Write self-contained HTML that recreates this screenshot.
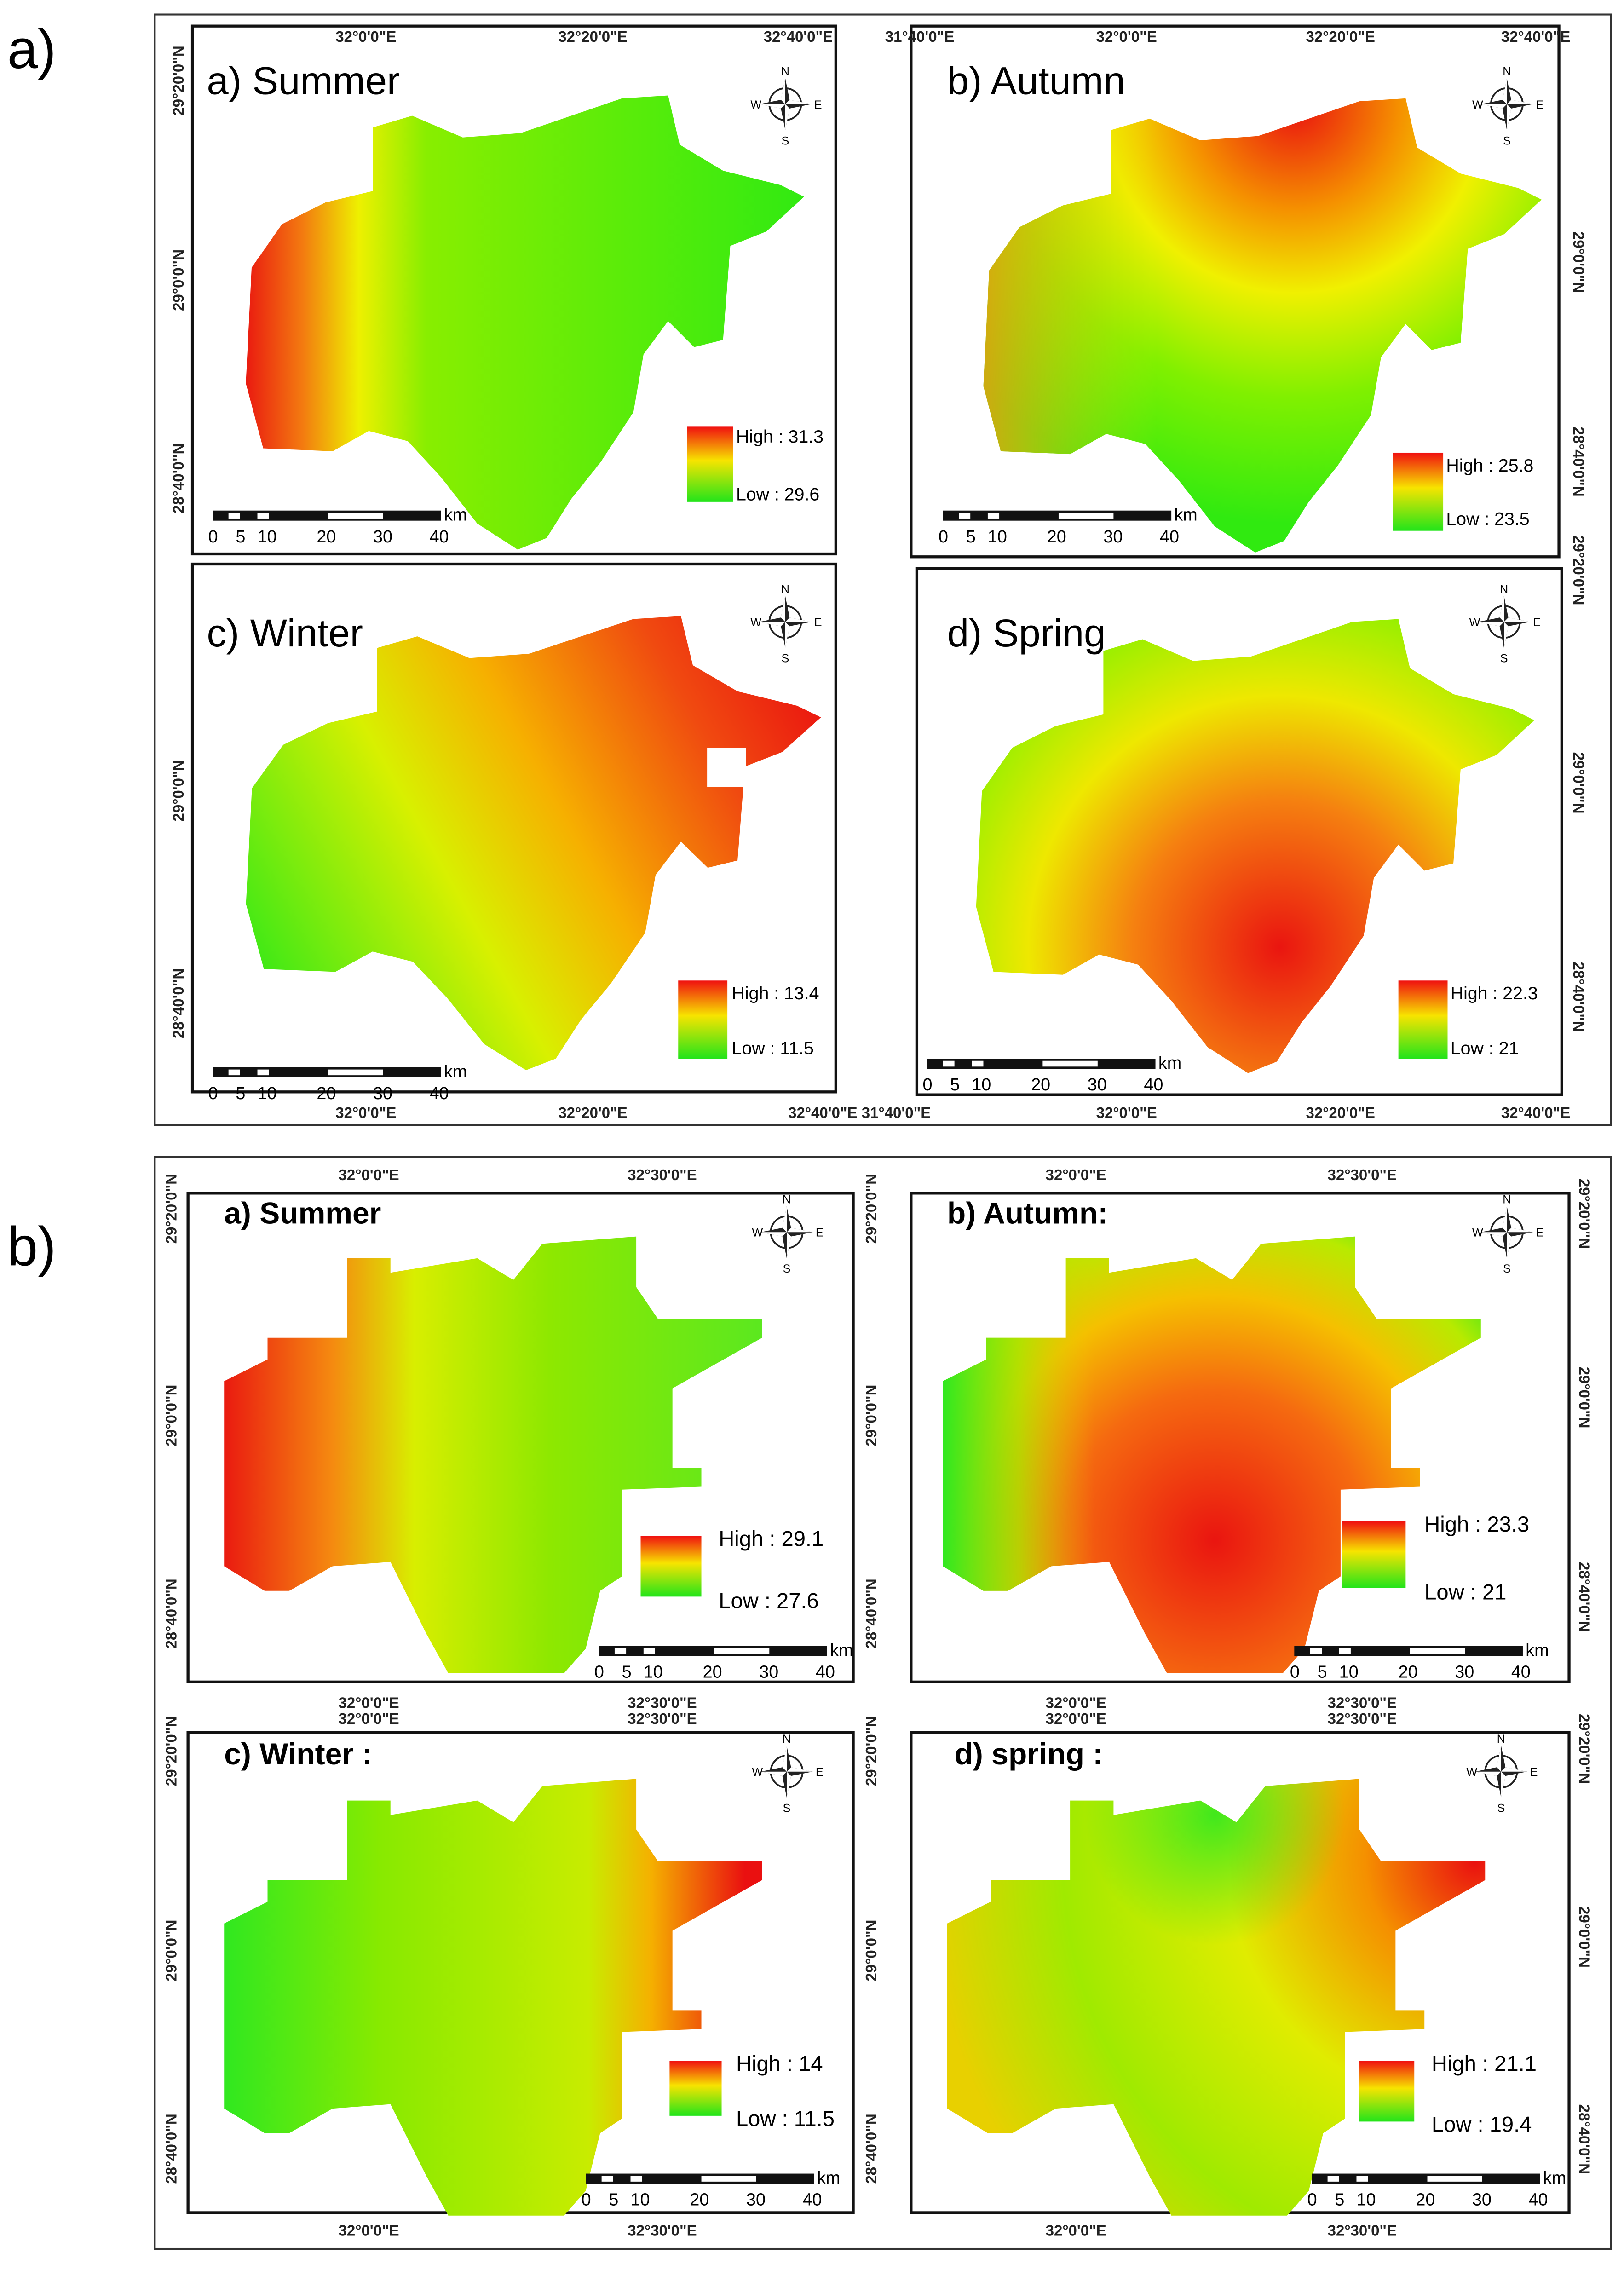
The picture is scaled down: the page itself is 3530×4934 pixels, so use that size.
<!DOCTYPE html>
<html><head><meta charset="utf-8"><style>
html,body{margin:0;padding:0;background:#fff}
svg{display:block}
text{font-family:"Liberation Sans",sans-serif}
.crd{font-size:10.5px;font-weight:bold;fill:#222}
.ttl{font-size:27px}
.ttlb{font-size:21px;font-weight:bold}
.lg{font-size:12.5px}
.lgb{font-size:15px}
.sb{font-size:12px}
</style></head><body>
<svg id="fig" width="3530" height="4934" viewBox="0 0 1123 1569.6" xmlns="http://www.w3.org/2000/svg">
<defs>
 <linearGradient id="leg" x1="0" y1="0" x2="0" y2="1"><stop offset="0" stop-color="#f01010"/><stop offset="0.45" stop-color="#f7e400"/><stop offset="1" stop-color="#22e41a"/></linearGradient>
 <linearGradient id="gSumA" x1="170" y1="0" x2="560" y2="0" gradientUnits="userSpaceOnUse"><stop offset="0" stop-color="#ea1a10"/><stop offset="0.1" stop-color="#f37a10"/><stop offset="0.2" stop-color="#eef000"/><stop offset="0.32" stop-color="#88ee00"/><stop offset="1" stop-color="#30ea12"/></linearGradient>
 <radialGradient id="gAutA" cx="385" cy="70" r="290" gradientUnits="userSpaceOnUse"><stop offset="0" stop-color="#ea1010"/><stop offset="0.25" stop-color="#f59000"/><stop offset="0.45" stop-color="#f0f000"/><stop offset="0.7" stop-color="#80f000"/><stop offset="1" stop-color="#30ea10"/></radialGradient>
 <linearGradient id="gAutAw" x1="170" y1="0" x2="290" y2="0" gradientUnits="userSpaceOnUse"><stop offset="0" stop-color="#f59a10" stop-opacity="0.8"/><stop offset="1" stop-color="#f0e000" stop-opacity="0"/></linearGradient>
 <linearGradient id="gWinA" x1="170" y1="320" x2="558" y2="110" gradientUnits="userSpaceOnUse"><stop offset="0" stop-color="#30e818"/><stop offset="0.35" stop-color="#d8f000"/><stop offset="0.55" stop-color="#f6b000"/><stop offset="0.8" stop-color="#f04a10"/><stop offset="1" stop-color="#ea1010"/></linearGradient>
 <radialGradient id="gSprA" cx="380" cy="293" r="290" gradientUnits="userSpaceOnUse"><stop offset="0" stop-color="#ea1510"/><stop offset="0.35" stop-color="#f58010"/><stop offset="0.6" stop-color="#eee800"/><stop offset="0.85" stop-color="#90f000"/><stop offset="1" stop-color="#38e818"/></radialGradient>
 <linearGradient id="gSumB" x1="155" y1="0" x2="530" y2="0" gradientUnits="userSpaceOnUse"><stop offset="0" stop-color="#ea1a10"/><stop offset="0.2" stop-color="#f58a10"/><stop offset="0.35" stop-color="#d8ee00"/><stop offset="0.6" stop-color="#8ee800"/><stop offset="1" stop-color="#5ae820"/></linearGradient>
 <radialGradient id="gAutB" cx="343" cy="1065" r="260" gradientUnits="userSpaceOnUse"><stop offset="0" stop-color="#ea1510"/><stop offset="0.4" stop-color="#f56a10"/><stop offset="0.65" stop-color="#f5c000"/><stop offset="0.85" stop-color="#b8ea00"/><stop offset="1" stop-color="#30e820"/></radialGradient>
 <linearGradient id="gAutBw" x1="155" y1="0" x2="260" y2="0" gradientUnits="userSpaceOnUse"><stop offset="0" stop-color="#30e820" stop-opacity="1"/><stop offset="0.5" stop-color="#a0e800" stop-opacity="0.7"/><stop offset="1" stop-color="#f0c000" stop-opacity="0"/></linearGradient>
 <linearGradient id="gWinB" x1="155" y1="0" x2="515" y2="0" gradientUnits="userSpaceOnUse"><stop offset="0" stop-color="#30e820"/><stop offset="0.3" stop-color="#88ea00"/><stop offset="0.7" stop-color="#c8ec00"/><stop offset="0.82" stop-color="#f5b000"/><stop offset="1" stop-color="#ea1010"/></linearGradient>
 <radialGradient id="gSprB" cx="520" cy="912" r="380" gradientUnits="userSpaceOnUse"><stop offset="0" stop-color="#ea1010"/><stop offset="0.2" stop-color="#f59000"/><stop offset="0.45" stop-color="#e0ec00"/><stop offset="0.75" stop-color="#a0ea00"/><stop offset="1" stop-color="#e8d000"/></radialGradient>
 <radialGradient id="gSprBg" cx="340" cy="880" r="90" gradientUnits="userSpaceOnUse"><stop offset="0" stop-color="#30e820" stop-opacity="0.9"/><stop offset="1" stop-color="#30e820" stop-opacity="0"/></radialGradient>
 <polygon id="shA" points="258,88 285,80 320,95 360,92 395,80 430,68 462,66 470,100 500,118 540,128 556,136 530,160 505,170 500,235 480,240 462,222 445,245 438,285 415,320 395,345 378,372 358,380 330,362 305,330 282,305 255,298 230,312 182,310 170,265 174,185 195,155 225,140 258,132"/>
 <polygon id="shB" points="240,870 270,870 270,880 330,870 355,885 375,860 440,855 440,890 455,912 527,912 527,925 465,960 465,1015 485,1015 485,1028 430,1030 430,1090 415,1100 405,1140 390,1157 310,1157 295,1130 270,1080 230,1083 200,1100 183,1100 155,1083 155,955 185,940 185,925 240,925"/>
 <g id="compass"><circle r="11" fill="none" stroke="#222" stroke-width="1.2"/><polygon points="0,-18 3,-3 18,0 3,3 0,18 -3,3 -18,0 -3,-3" fill="#222"/><polygon points="0,-18 -3,-3 0,0" fill="#fff"/><polygon points="18,0 3,-3 0,0" fill="#fff"/><polygon points="0,18 3,3 0,0" fill="#fff"/><polygon points="-18,0 -3,3 0,0" fill="#fff"/><text x="0" y="-20" font-size="8" text-anchor="middle" font-family="Liberation Serif">N</text><text x="0" y="28" font-size="8" text-anchor="middle" font-family="Liberation Serif">S</text><text x="-24" y="3" font-size="8" font-family="Liberation Serif">W</text><text x="20" y="3" font-size="8" font-family="Liberation Serif">E</text></g>
 <g id="scale"><rect x="0" y="0" width="158" height="7" fill="#111"/><rect x="11" y="1.5" width="8" height="4" fill="#fff"/><rect x="31" y="1.5" width="8" height="4" fill="#fff"/><rect x="80" y="1.5" width="38" height="4" fill="#fff"/><text x="160" y="7" class="sb">km</text><text x="-3" y="22" class="sb">0</text><text x="16" y="22" class="sb">5</text><text x="31" y="22" class="sb">10</text><text x="72" y="22" class="sb">20</text><text x="111" y="22" class="sb">30</text><text x="150" y="22" class="sb">40</text></g>
</defs>
<rect width="1123" height="1570" fill="#fff"/>
<text x="5" y="47" font-size="38">a)</text>
<text x="5" y="875" font-size="38">b)</text>

<g id="partA">
<rect x="107" y="10" width="1007" height="768" fill="none" stroke="#333" stroke-width="1.3"/>
<rect x="133" y="18" width="445" height="365" fill="none" stroke="#111" stroke-width="2"/>
<rect x="630" y="18" width="448" height="367" fill="none" stroke="#111" stroke-width="2"/>
<rect x="133" y="390" width="445" height="365" fill="none" stroke="#111" stroke-width="2"/>
<rect x="634" y="393" width="446" height="364" fill="none" stroke="#111" stroke-width="2"/>
<use href="#shA" fill="url(#gSumA)"/>
<use href="#shA" transform="translate(510,2)" fill="url(#gAutA)"/>
<use href="#shA" transform="translate(510,2)" fill="url(#gAutAw)"/>
<use href="#shA" transform="translate(-5,360) scale(1.03,1)" fill="url(#gWinA)"/>
<use href="#shA" transform="translate(505,362)" fill="url(#gSprA)"/>
<rect x="489" y="517" width="27" height="27" fill="#fff"/>
<text x="143" y="65" class="ttl">a) Summer</text>
<text x="655" y="65" class="ttl">b) Autumn</text>
<text x="143" y="447" class="ttl">c) Winter</text>
<text x="655" y="447" class="ttl">d) Spring</text>
<use href="#compass" x="543" y="72"/><use href="#compass" x="1042" y="72"/><use href="#compass" x="543" y="430"/><use href="#compass" x="1040" y="430"/>
<rect x="475" y="295" width="32" height="52" fill="url(#leg)"/><text x="509" y="306" class="lg">High : 31.3</text><text x="509" y="346" class="lg">Low : 29.6</text>
<rect x="963" y="313" width="35" height="54" fill="url(#leg)"/><text x="1000" y="326" class="lg" font-size="14">High : 25.8</text><text x="1000" y="363" class="lg" font-size="14">Low : 23.5</text>
<rect x="469" y="678" width="34" height="54" fill="url(#leg)"/><text x="506" y="691" class="lg" font-size="14">High : 13.4</text><text x="506" y="729" class="lg" font-size="14">Low : 11.5</text>
<rect x="967" y="678" width="34" height="54" fill="url(#leg)"/><text x="1003" y="691" class="lg" font-size="14">High : 22.3</text><text x="1003" y="729" class="lg" font-size="14">Low : 21</text>
<use href="#scale" x="147" y="353"/><use href="#scale" x="652" y="353"/><use href="#scale" x="147" y="738"/><use href="#scale" x="641" y="732"/>
<text x="232" y="29" class="crd">32°0'0"E</text><text x="386" y="29" class="crd">32°20'0"E</text><text x="528" y="29" class="crd">32°40'0"E</text>
<text x="612" y="29" class="crd">31°40'0"E</text><text x="758" y="29" class="crd">32°0'0"E</text><text x="903" y="29" class="crd">32°20'0"E</text><text x="1038" y="29" class="crd">32°40'0"E</text>
<text x="232" y="773" class="crd">32°0'0"E</text><text x="386" y="773" class="crd">32°20'0"E</text><text x="545" y="773" class="crd">32°40'0"E 31°40'0"E</text><text x="758" y="773" class="crd">32°0'0"E</text><text x="903" y="773" class="crd">32°20'0"E</text><text x="1038" y="773" class="crd">32°40'0"E</text>
<text transform="translate(127,80) rotate(-90)" class="crd">29°20'0"N</text><text transform="translate(127,215) rotate(-90)" class="crd">29°0'0"N</text><text transform="translate(127,355) rotate(-90)" class="crd">28°40'0"N</text>
<text transform="translate(127,568) rotate(-90)" class="crd">29°0'0"N</text><text transform="translate(127,718) rotate(-90)" class="crd">28°40'0"N</text>
<text transform="translate(1088,160) rotate(90)" class="crd">29°0'0"N</text><text transform="translate(1088,295) rotate(90)" class="crd">28°40'0"N</text><text transform="translate(1088,370) rotate(90)" class="crd">29°20'0"N</text>
<text transform="translate(1088,520) rotate(90)" class="crd">29°0'0"N</text><text transform="translate(1088,665) rotate(90)" class="crd">28°40'0"N</text>
</g>

<g id="partB">
<rect x="107" y="800" width="1007" height="755" fill="none" stroke="#333" stroke-width="1.3"/>
<rect x="130" y="825" width="460" height="338" fill="none" stroke="#111" stroke-width="2"/>
<rect x="630" y="825" width="455" height="338" fill="none" stroke="#111" stroke-width="2"/>
<rect x="130" y="1198" width="460" height="332" fill="none" stroke="#111" stroke-width="2"/>
<rect x="630" y="1198" width="455" height="332" fill="none" stroke="#111" stroke-width="2"/>
<use href="#shB" fill="url(#gSumB)"/>
<use href="#shB" transform="translate(497,0)" fill="url(#gAutB)"/>
<use href="#shB" transform="translate(497,0)" fill="url(#gAutBw)"/>
<use href="#shB" transform="translate(0,375)" fill="url(#gWinB)"/>
<use href="#shB" transform="translate(500,375)" fill="url(#gSprB)"/>
<use href="#shB" transform="translate(500,375)" fill="url(#gSprBg)"/>
<text x="155" y="846" class="ttlb">a) Summer</text>
<text x="655" y="846" class="ttlb">b) Autumn:</text>
<text x="155" y="1220" class="ttlb">c) Winter :</text>
<text x="660" y="1220" class="ttlb">d) spring :</text>
<use href="#compass" x="544" y="852"/><use href="#compass" x="1042" y="852"/><use href="#compass" x="544" y="1225"/><use href="#compass" x="1038" y="1225"/>
<rect x="443" y="1062" width="42" height="42" fill="url(#leg)"/><text x="497" y="1069" class="lgb">High : 29.1</text><text x="497" y="1112" class="lgb">Low : 27.6</text>
<rect x="928" y="1052" width="44" height="46" fill="url(#leg)"/><text x="985" y="1059" class="lgb" font-size="16">High : 23.3</text><text x="985" y="1106" class="lgb" font-size="16">Low : 21</text>
<rect x="463" y="1425" width="36" height="38" fill="url(#leg)"/><text x="509" y="1432" class="lgb">High : 14</text><text x="509" y="1470" class="lgb">Low : 11.5</text>
<rect x="940" y="1425" width="38" height="42" fill="url(#leg)"/><text x="990" y="1432" class="lgb">High : 21.1</text><text x="990" y="1474" class="lgb">Low : 19.4</text>
<use href="#scale" x="414" y="1138"/><use href="#scale" x="895" y="1138"/><use href="#scale" x="405" y="1503"/><use href="#scale" x="907" y="1503"/>
<text x="234" y="816" class="crd">32°0'0"E</text><text x="434" y="816" class="crd">32°30'0"E</text><text x="723" y="816" class="crd">32°0'0"E</text><text x="918" y="816" class="crd">32°30'0"E</text>
<text x="234" y="1181" class="crd">32°0'0"E</text><text x="234" y="1192" class="crd">32°0'0"E</text><text x="434" y="1181" class="crd">32°30'0"E</text><text x="434" y="1192" class="crd">32°30'0"E</text>
<text x="723" y="1181" class="crd">32°0'0"E</text><text x="723" y="1192" class="crd">32°0'0"E</text><text x="918" y="1181" class="crd">32°30'0"E</text><text x="918" y="1192" class="crd">32°30'0"E</text>
<text x="234" y="1546" class="crd">32°0'0"E</text><text x="434" y="1546" class="crd">32°30'0"E</text><text x="723" y="1546" class="crd">32°0'0"E</text><text x="918" y="1546" class="crd">32°30'0"E</text>
<text transform="translate(122,860) rotate(-90)" class="crd">29°20'0"N</text><text transform="translate(122,1000) rotate(-90)" class="crd">29°0'0"N</text><text transform="translate(122,1140) rotate(-90)" class="crd">28°40'0"N</text>
<text transform="translate(122,1235) rotate(-90)" class="crd">29°20'0"N</text><text transform="translate(122,1370) rotate(-90)" class="crd">29°0'0"N</text><text transform="translate(122,1510) rotate(-90)" class="crd">28°40'0"N</text>
<text transform="translate(606,860) rotate(-90)" class="crd">29°20'0"N</text><text transform="translate(606,1000) rotate(-90)" class="crd">29°0'0"N</text><text transform="translate(606,1140) rotate(-90)" class="crd">28°40'0"N</text>
<text transform="translate(606,1235) rotate(-90)" class="crd">29°20'0"N</text><text transform="translate(606,1370) rotate(-90)" class="crd">29°0'0"N</text><text transform="translate(606,1510) rotate(-90)" class="crd">28°40'0"N</text>
<text transform="translate(1092,815) rotate(90)" class="crd">29°20'0"N</text><text transform="translate(1092,945) rotate(90)" class="crd">29°0'0"N</text><text transform="translate(1092,1080) rotate(90)" class="crd">28°40'0"N</text>
<text transform="translate(1092,1185) rotate(90)" class="crd">29°20'0"N</text><text transform="translate(1092,1318) rotate(90)" class="crd">29°0'0"N</text><text transform="translate(1092,1455) rotate(90)" class="crd">28°40'0"N</text>
</g>
</svg>
</body></html>
